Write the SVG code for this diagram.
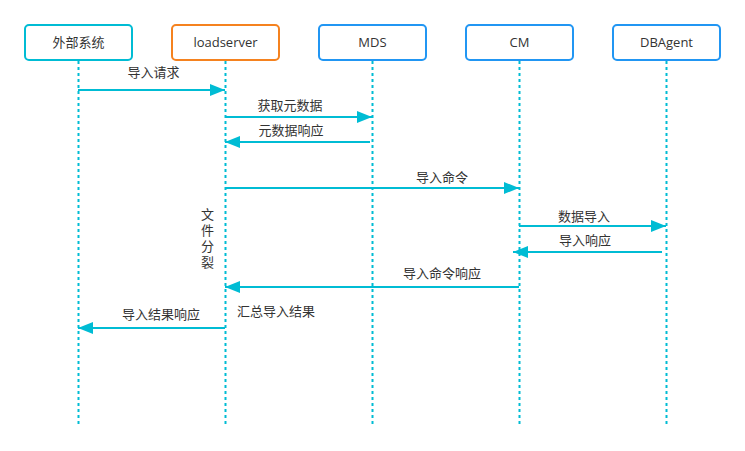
<svg xmlns="http://www.w3.org/2000/svg" width="745" height="451" viewBox="0 0 745 451">
<style>
text{font-family:"Open Sans","Noto Sans CJK SC",sans-serif;font-size:13px;fill:#333}
.box{fill:#fff;stroke-width:2}
.life{stroke:#00bcd4;stroke-width:2;stroke-dasharray:3 3;fill:none}
.msg{stroke:#00bcd4;stroke-width:2;fill:none}
.c{text-anchor:middle}
.vt{writing-mode:vertical-rl;letter-spacing:3px}
</style>
<defs>
<marker id="ah" viewBox="0 0 15 12" refX="15" refY="6" markerWidth="15" markerHeight="12" markerUnits="userSpaceOnUse" orient="auto">
<path d="M0,0 L15,6 L0,12 Z" fill="#00bcd4"/>
</marker>
</defs>
<rect width="745" height="451" fill="#fff"/>
<g id="lifelines">
<line class="life" x1="78.5" y1="61" x2="78.5" y2="424"/>
<line class="life" x1="225.5" y1="61" x2="225.5" y2="424"/>
<line class="life" x1="372.5" y1="61" x2="372.5" y2="424"/>
<line class="life" x1="519.5" y1="61" x2="519.5" y2="424"/>
<line class="life" x1="666.5" y1="61" x2="666.5" y2="424"/>
</g>
<g id="n-external"><rect class="box" x="25" y="25" width="107" height="35" rx="4" stroke="#00bcd4"/><text class="c" x="78.5" y="47">外部系统</text></g>
<g id="n-loadserver"><rect class="box" x="172" y="25" width="107" height="35" rx="4" stroke="#f5821f"/><text class="c" x="225.5" y="47">loadserver</text></g>
<g id="n-mds"><rect class="box" x="319" y="25" width="107" height="35" rx="4" stroke="#2196f3"/><text class="c" x="372.5" y="47">MDS</text></g>
<g id="n-cm"><rect class="box" x="466" y="25" width="107" height="35" rx="4" stroke="#2196f3"/><text class="c" x="519.5" y="47">CM</text></g>
<g id="n-dbagent"><rect class="box" x="613" y="25" width="107" height="35" rx="4" stroke="#2196f3"/><text class="c" x="666.5" y="47">DBAgent</text></g>
<g id="connectors">
<line class="msg" x1="78" y1="90" x2="225" y2="90" marker-end="url(#ah)"/>
<line class="msg" x1="225" y1="117" x2="372" y2="117" marker-end="url(#ah)"/>
<line class="msg" x1="370" y1="142" x2="225" y2="142" marker-end="url(#ah)"/>
<line class="msg" x1="225" y1="188" x2="519" y2="188" marker-end="url(#ah)"/>
<line class="msg" x1="519" y1="226" x2="666" y2="226" marker-end="url(#ah)"/>
<line class="msg" x1="662" y1="252" x2="513" y2="252" marker-end="url(#ah)"/>
<line class="msg" x1="519" y1="287" x2="225" y2="287" marker-end="url(#ah)"/>
<line class="msg" x1="225" y1="328" x2="78" y2="328" marker-end="url(#ah)"/>
</g>
<g id="labels">
<text class="c" x="153.5" y="77">导入请求</text>
<text class="c" x="290" y="110">获取元数据</text>
<text class="c" x="291" y="135">元数据响应</text>
<text class="c" x="442" y="182">导入命令</text>
<text class="c" x="584" y="221">数据导入</text>
<text class="c" x="585" y="245">导入响应</text>
<text class="c" x="442" y="278">导入命令响应</text>
<text class="c" x="161" y="319">导入结果响应</text>
<text x="237" y="316">汇总导入结果</text>
<text class="vt" x="207" y="208">文件分裂</text>
</g>
</svg>
